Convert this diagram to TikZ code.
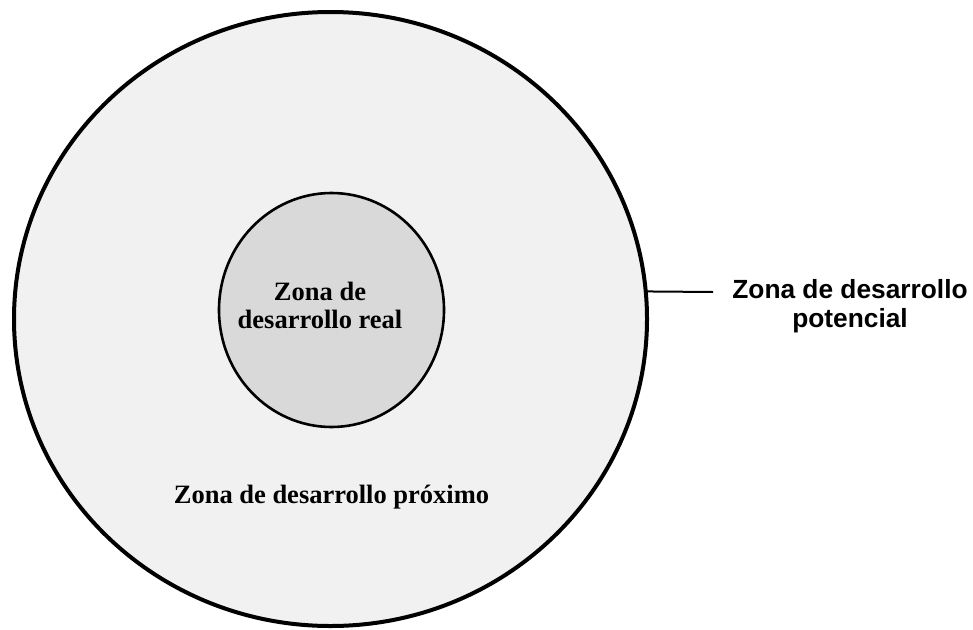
\documentclass[tikz,border=0pt]{standalone}
\usepackage{fontspec}
\setmainfont{Liberation Serif}
\newfontfamily\arialfont{Liberation Sans}
\usetikzlibrary{shapes.geometric}
\definecolor{outerfill}{gray}{0.945}
\definecolor{innerfill}{gray}{0.85}
\tikzset{
  zone/.style={ellipse, draw=black, inner sep=0pt, outer sep=0pt},
  serifbold/.style={font=\fontsize{26.5}{28}\selectfont\bfseries, inner sep=0pt, align=center},
  sansbold/.style={font=\arialfont\fontsize{26.3}{28.5}\selectfont\bfseries, inner sep=0pt, align=center},
}
\begin{document}
\begin{tikzpicture}[x=1pt,y=-1pt]
  \useasboundingbox (0,0) rectangle (973,629);
  \node[zone, fill=outerfill, line width=4pt, minimum width=633pt, minimum height=614pt] (outer) at (330.5,319) {};
  \node[zone, fill=innerfill, line width=2.6pt, minimum width=225pt, minimum height=234pt] (inner) at (331.5,310) {};
  \node[serifbold] (real) at (320,305) {Zona de\\desarrollo real};
  \node[serifbold, anchor=base] (proximo) at (331.5,503) {Zona de desarrollo próximo};
  \node[sansbold] (potencial) at (850,306) {Zona de desarrollo\\potencial};
  \coordinate (lineend) at (713,292);
  \draw[line width=2pt] (outer.5) -- (lineend);
\end{tikzpicture}
\end{document}
